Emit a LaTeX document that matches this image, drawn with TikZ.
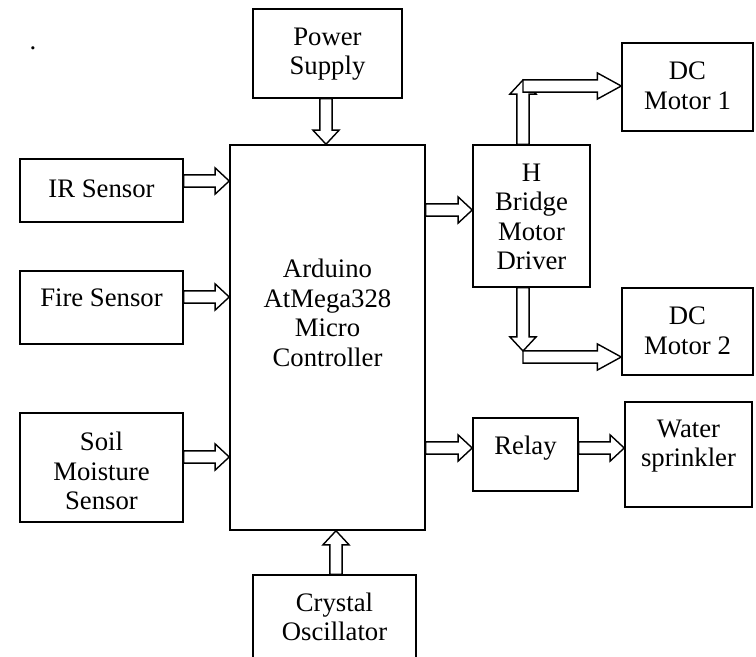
\documentclass[tikz,border=0pt]{standalone}
\usepackage{fontspec}
\setmainfont{Liberation Serif}
\usetikzlibrary{calc}

% hollow block arrow between two points, optional head length
\newcommand{\arrsw}{4.4pt}
\newcommand{\arrhw}{9.3pt}
\newcommand{\fatarrow}[3][10pt]{%
  \draw[fat] let \p1=(#2), \p2=(#3), \n1={atan2(\y2-\y1,\x2-\x1)} in
    ($(\p1)+({\n1+90}:\arrsw)$)
    -- ($(\p2)+({\n1+180}:#1)+({\n1+90}:\arrsw)$)
    -- ($(\p2)+({\n1+180}:#1)+({\n1+90}:\arrhw)$)
    -- (\p2)
    -- ($(\p2)+({\n1+180}:#1)+({\n1-90}:\arrhw)$)
    -- ($(\p2)+({\n1+180}:#1)+({\n1-90}:\arrsw)$)
    -- ($(\p1)+({\n1-90}:\arrsw)$) -- cycle;}

\begin{document}
\begin{tikzpicture}[
    x=0.025cm, y=-0.025cm,
    blk/.style={draw, line width=1.1pt, inner sep=0pt},
    txt/.style={align=center, inner sep=0pt, font=\fontsize{19}{21}\selectfont},
    fat/.style={draw, fill=white, line width=1pt, line join=miter}
]
    \useasboundingbox (0,0) rectangle (756,657);
    \clip (0,0) rectangle (756,657);

    % stray dot top left
    \node[txt, anchor=base] (dot) at (33,50) {.};

    % ==========================
    % BLOCKS: name/cx/cy/width/height/text y/text
    % ==========================
    \foreach \nm/\cx/\cy/\w/\h/\ty/\t in {
        ps/327.5/53.5/149/89/54/{Power\\Supply},
        ir/101.5/190.5/163/63/189/{IR Sensor},
        fire/101.5/307.5/163/73/298/{Fire Sensor},
        soil/101.5/467.5/163/109/471/{Soil\\Moisture\\Sensor},
        mc/327.5/337.5/195/385/313/{Arduino\\AtMega328\\Micro\\Controller},
        hb/531.5/216/117/142/217/{H\\Bridge\\Motor\\Driver},
        m1/687.5/87/131/88/86/{DC\\Motor 1},
        m2/687.5/331.5/131/87/331/{DC\\Motor 2},
        rl/525.5/454.5/105/73/448/{Relay},
        ws/688.5/454.5/127/105/446/{Water\\sprinkler},
        co/334.5/627.5/163/105/617/{Crystal\\Oscillator}}
    {
        \node[blk, minimum width=\w*0.025cm, minimum height=\h*0.025cm] (\nm) at (\cx,\cy) {};
        \node[txt] (\nm-t) at (\cx,\ty) {\t};
    }

    % ==========================
    % ARROWS
    % ==========================
    \fatarrow{ps.south -| 326,0}{mc.north -| 326,0}
    \fatarrow{co.north -| 336,0}{mc.south -| 336,0}
    \fatarrow{ir.east |- 0,181}{mc.west |- 0,181}
    \fatarrow{fire.east |- 0,297}{mc.west |- 0,297}
    \fatarrow{soil.east |- 0,457}{mc.west |- 0,457}
    \fatarrow{mc.east |- 0,210}{hb.west |- 0,210}
    \fatarrow{mc.east |- 0,448}{rl.west |- 0,448}
    \fatarrow{rl.east |- 0,448}{ws.west |- 0,448}

    % motor branches with elbows
    \coordinate (up) at (523,80);
    \coordinate (upr) at (523,86);
    \coordinate (dn) at (523,351);
    \coordinate (dnr) at (523,357);
    \fatarrow{hb.north -| up}{up}
    \fatarrow[17pt]{upr}{m1.west |- upr}
    \fatarrow{hb.south -| dn}{dn}
    \fatarrow[17pt]{dnr}{m2.west |- dnr}

\end{tikzpicture}
\end{document}
